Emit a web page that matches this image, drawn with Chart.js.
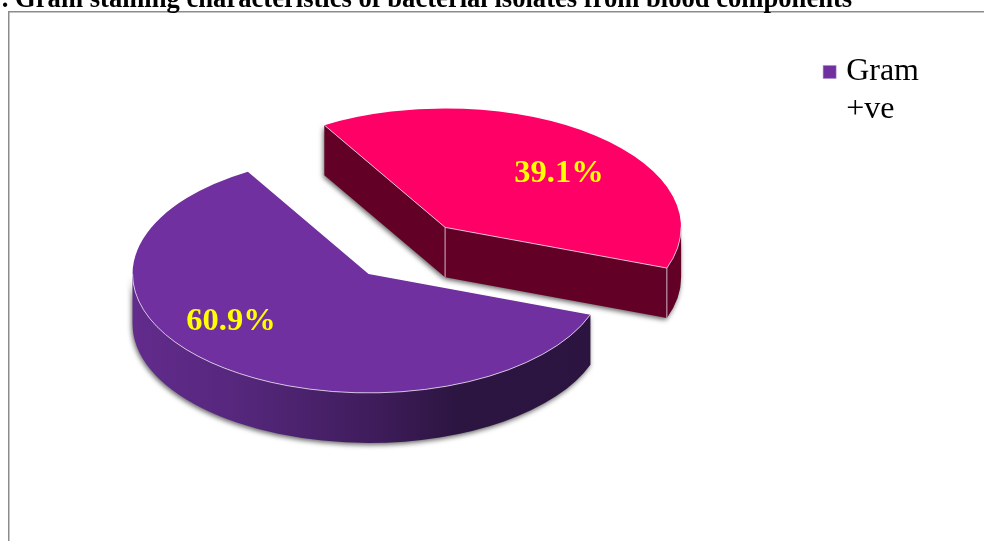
<!DOCTYPE html>
<html>
<head>
<meta charset="utf-8">
<style>
html,body{margin:0;padding:0;background:#fff;overflow:hidden}
canvas{display:block}
</style>
<script src="https://cdn.jsdelivr.net/npm/chart.js@4"></script>
</head>
<body>
<canvas id="pie" width="984" height="541"></canvas>
<script>
// Gram staining shares of the isolates
const categories = ['Gram +ve', 'Gram -ve'];
const shares = [60.9, 39.1];
const sliceColors = ['#7030a0', '#ff0066'];
const chartTitle = '. Gram staining characteristics of bacterial isolates from blood components';
const legendLines = ['Gram', '+ve'];

// Tilted-disc look
const TILT = 0.504;       // vertical squash of the disc
const DEPTH = 50;         // wall height in pixels
const DISC_SHIFT = -38;   // disc sits left of the plot area's middle
const EXPLODE = [0, 120]; // how far each slice is pulled out of the disc
const TEXT_SPOT = [{turn: 17.4, frac: 0.695}, {turn: 6.1, frac: 0.674}];
const TEXT_DROP = 2.5;    // optical centring of the value labels
const SERIF = '"Liberation Serif", "Times New Roman", serif';

const project = (cy, y) => cy + (y - cy) * TILT;
const discCentreY = chart => (chart.chartArea.top + chart.chartArea.bottom) / 2;

// Portion of an angular range on the front half of the disc
function frontSpans(a0, a1) {
  const spans = [];
  for (let k = -1; k <= 1; k++) {
    const lo = Math.max(a0, k * 2 * Math.PI), hi = Math.min(a1, k * 2 * Math.PI + Math.PI);
    if (hi > lo) spans.push([lo, hi]);
  }
  return spans;
}

function wallFill(ctx, arc, index) {
  if (index === 0) {
    const g = ctx.createLinearGradient(arc.x - arc.outerRadius, 0, arc.x + arc.outerRadius, 0);
    g.addColorStop(0, '#622b8c');
    g.addColorStop(0.23, '#55277c');
    g.addColorStop(0.52, '#3e1c5a');
    g.addColorStop(0.68, '#2d1542');
    g.addColorStop(1, '#2b1440');
    return g;
  }
  return '#620026';
}

// Walls of each slice: cut faces that look toward the viewer, then the rim
function wallPaths(arc, cy) {
  const paths = [];
  const Y = project(cy, arc.y), R = arc.outerRadius, r = R * TILT;
  const rimPoint = a => [arc.x + Math.cos(a) * R, Y + Math.sin(a) * r];
  const face = a => {
    const p = rimPoint(a);
    return c => {
      c.moveTo(arc.x, Y); c.lineTo(p[0], p[1]);
      c.lineTo(p[0], p[1] + DEPTH); c.lineTo(arc.x, Y + DEPTH); c.closePath();
    };
  };
  if (Math.sin(arc.startAngle - Math.PI / 2) > 0) paths.push(face(arc.startAngle));
  if (Math.sin(arc.endAngle + Math.PI / 2) > 0) paths.push(face(arc.endAngle));
  frontSpans(arc.startAngle, arc.endAngle).forEach(([lo, hi]) => paths.push(c => {
    c.ellipse(arc.x, Y, R, r, 0, lo, hi);
    c.ellipse(arc.x, Y + DEPTH, R, r, 0, hi, lo, true);
    c.closePath();
  }));
  return paths;
}

const tiltedDisc = {
  id: 'tiltedDisc',
  afterDatasetUpdate(chart, args) {
    chart.getDatasetMeta(args.index).data.forEach((arc, i) => {
      const mid = (arc.startAngle + arc.endAngle) / 2;
      arc.x += DISC_SHIFT + Math.cos(mid) * EXPLODE[i];
      arc.y += Math.sin(mid) * EXPLODE[i];
    });
  },
  beforeDraw(chart) {
    // outer frame of the figure, only its top and left sides are in view
    const c = chart.ctx;
    c.save();
    c.fillStyle = '#8c8c8c';
    c.fillRect(8, 11, 976, 1.5);
    c.fillRect(8, 11, 1.5, 530);
    c.restore();
  },
  beforeDatasetsDraw(chart) {
    const c = chart.ctx, cy = discCentreY(chart);
    chart.getDatasetMeta(0).data.forEach((arc, i) => {
      const paths = wallPaths(arc, cy);
      c.save();
      c.shadowColor = 'rgba(0,0,0,0.6)';
      c.shadowBlur = 5;
      c.shadowOffsetX = -1;
      c.shadowOffsetY = 2;
      c.fillStyle = '#888';
      paths.forEach(p => { c.beginPath(); p(c); c.fill(); });
      c.restore();
      c.save();
      c.fillStyle = wallFill(c, arc, i);
      paths.forEach(p => { c.beginPath(); p(c); c.fill(); });
      c.restore();
    });
  },
  beforeDatasetDraw(chart) {
    const c = chart.ctx, cy = discCentreY(chart);
    c.save();
    c.translate(0, cy);
    c.scale(1, TILT);
    c.translate(0, -cy);
  },
  afterDatasetDraw(chart) {
    chart.ctx.restore();
  },
  afterDatasetsDraw(chart) {
    const c = chart.ctx, cy = discCentreY(chart);
    chart.getDatasetMeta(0).data.forEach((arc, i) => {
      const Y = project(cy, arc.y), R = arc.outerRadius, r = R * TILT;
      const rim = a => [arc.x + Math.cos(a) * R, Y + Math.sin(a) * r];
      c.save();
      // pale highlights along the exposed edges
      c.strokeStyle = 'rgba(235,225,240,0.8)';
      c.lineWidth = 1;
      frontSpans(arc.startAngle, arc.endAngle).forEach(([lo, hi]) => {
        c.beginPath();
        c.ellipse(arc.x, Y, R, r, 0, lo, hi);
        c.stroke();
      });
      if (i === 1) {
        const s = rim(arc.startAngle), e = rim(arc.endAngle);
        c.beginPath();
        c.moveTo(s[0], s[1]); c.lineTo(arc.x, Y); c.lineTo(e[0], e[1]);
        c.moveTo(arc.x, Y); c.lineTo(arc.x, Y + DEPTH);
        c.moveTo(e[0], e[1]); c.lineTo(e[0], e[1] + DEPTH);
        c.stroke();
      }
      // value label on the top face
      const spot = TEXT_SPOT[i];
      const mid = (arc.startAngle + arc.endAngle) / 2 + spot.turn * Math.PI / 180;
      c.fillStyle = '#ffff00';
      c.font = 'bold 32.5px ' + SERIF;
      c.textAlign = 'center';
      c.textBaseline = 'middle';
      c.fillText(shares[i].toFixed(1) + '%', arc.x + Math.cos(mid) * R * spot.frac, Y + Math.sin(mid) * r * spot.frac + TEXT_DROP);
      c.restore();
    });
  }
};

new Chart(document.getElementById('pie'), {
  type: 'pie',
  data: {
    labels: categories,
    datasets: [{
      data: shares,
      backgroundColor: sliceColors,
      borderWidth: 0,
      hoverOffset: 0,
      clip: false
    }]
  },
  options: {
    responsive: false,
    animation: false,
    rotation: 110,
    radius: 236,
    events: [],
    layout: {padding: {left: -75, right: 55, top: 0, bottom: 33}},
    plugins: {
      tooltip: {enabled: false},
      title: {
        display: true,
        text: chartTitle,
        align: 'center',
        color: '#000',
        font: {family: SERIF, size: 26.6, weight: 'bold', lineHeight: 1.2},
        padding: {top: -15.5, bottom: 23.5}
      },
      legend: {
        position: 'right',
        align: 'start',
        fullSize: false,
        labels: {
          color: '#000',
          font: {family: SERIF, size: 32, lineHeight: 1.19},
          usePointStyle: true,
          boxWidth: 1,
          boxHeight: 13,
          padding: 16,
          generateLabels: () => [{
            text: legendLines,
            fillStyle: sliceColors[0],
            strokeStyle: '#a98bc4',
            lineWidth: 0.5,
            pointStyle: 'rect',
            hidden: false,
            index: 0
          }]
        }
      }
    }
  },
  plugins: [tiltedDisc]
});
</script>
</body>
</html>
